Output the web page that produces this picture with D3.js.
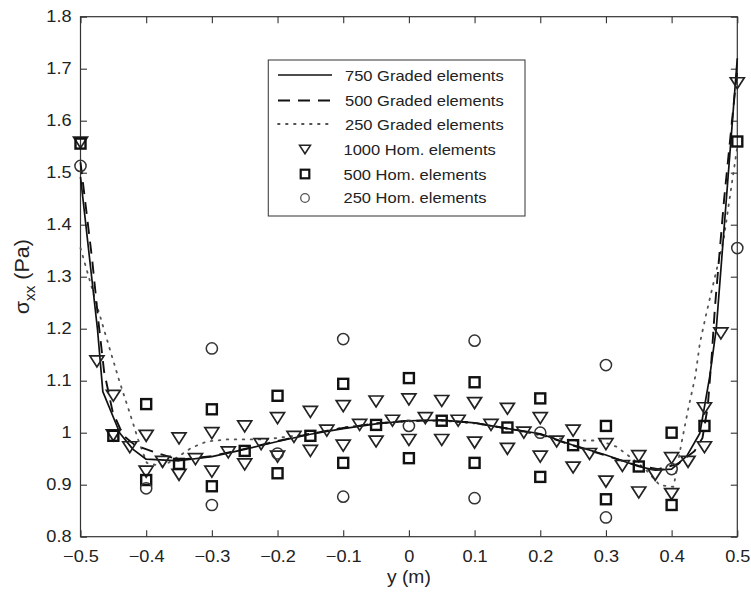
<!DOCTYPE html>
<html>
<head>
<meta charset="utf-8">
<script src="https://cdn.jsdelivr.net/npm/d3@7/dist/d3.min.js"></script>
<style>
html,body{margin:0;padding:0;background:#fff;}
svg{display:block;}
text{font-family:"Liberation Sans",Arial,sans-serif;fill:#222;}
</style>
</head>
<body>
<svg id="chart" width="751" height="592"></svg>
<script>
// ---------- data ----------
const xTickValues = [-0.5, -0.4, -0.3, -0.2, -0.1, 0, 0.1, 0.2, 0.3, 0.4, 0.5];
const xTickLabels = ["\u22120.5", "\u22120.4", "\u22120.3", "\u22120.2", "\u22120.1", "0", "0.1", "0.2", "0.3", "0.4", "0.5"];
const yTickValues = [0.8, 0.9, 1.0, 1.1, 1.2, 1.3, 1.4, 1.5, 1.6, 1.7, 1.8];
const yTickLabels = ["0.8", "0.9", "1", "1.1", "1.2", "1.3", "1.4", "1.5", "1.6", "1.7", "1.8"];

const legendLabels = ["750 Graded elements", "500 Graded elements", "250 Graded elements",
                      "1000 Hom. elements", "500 Hom. elements", "250 Hom. elements"];

// 750 graded elements (solid)
const graded750X = [-0.5, -0.474, -0.466, -0.44, -0.42, -0.4, -0.35, -0.3, -0.25, -0.2, -0.15, -0.1, -0.05, 0, 0.05, 0.1, 0.15, 0.2, 0.25, 0.3, 0.35, 0.375, 0.4, 0.423, 0.443, 0.458, 0.468, 0.5];
const graded750Y = [1.492, 1.197, 1.079, 0.999, 0.968, 0.949, 0.946, 0.954, 0.968, 0.983, 0.997, 1.008, 1.017, 1.023, 1.024, 1.019, 1.008, 0.998, 0.976, 0.957, 0.935, 0.928, 0.930, 0.955, 0.999, 1.108, 1.200, 1.720];

// 500 graded elements (dashed)
const graded500X = [-0.5, -0.482, -0.473, -0.464, -0.451, -0.435, -0.417, -0.384, -0.35, -0.3, -0.25, -0.2, -0.15, -0.1, -0.05, 0, 0.05, 0.1, 0.15, 0.2, 0.25, 0.3, 0.35, 0.38, 0.41, 0.435, 0.447, 0.455, 0.461, 0.466, 0.48, 0.5];
const graded500Y = [1.52, 1.33, 1.217, 1.117, 1.04, 0.995, 0.976, 0.961, 0.948, 0.955, 0.969, 0.984, 0.998, 1.009, 1.018, 1.023, 1.024, 1.019, 1.008, 0.997, 0.975, 0.956, 0.936, 0.930, 0.940, 0.965, 0.990, 1.05, 1.146, 1.242, 1.45, 1.70];

// 250 graded elements (dotted)
const graded250X = [-0.5, -0.473, -0.455, -0.44, -0.425, -0.412, -0.399, -0.375, -0.35, -0.331, -0.308, -0.277, -0.22, -0.2, -0.15, -0.1, -0.05, 0, 0.05, 0.1, 0.15, 0.2, 0.25, 0.29, 0.316, 0.33, 0.36, 0.382, 0.403, 0.415, 0.425, 0.436, 0.443, 0.453, 0.479, 0.494, 0.5];
const graded250Y = [1.355, 1.236, 1.159, 1.096, 1.038, 0.986, 0.942, 0.935, 0.955, 0.971, 0.983, 0.987, 0.987, 0.990, 0.998, 1.010, 1.018, 1.022, 1.023, 1.018, 1.008, 0.995, 0.985, 0.985, 0.973, 0.960, 0.930, 0.899, 0.896, 0.980, 1.044, 1.108, 1.172, 1.230, 1.370, 1.499, 1.550];

// 1000 homogeneous elements (triangles)
const hom1000X = [-0.5, -0.475, -0.45, -0.45, -0.425, -0.4, -0.4, -0.375, -0.35, -0.35, -0.325, -0.3, -0.3, -0.275, -0.25, -0.25, -0.225, -0.2, -0.2, -0.175, -0.15, -0.15, -0.125, -0.1, -0.1, -0.075, -0.05, -0.05, -0.025, 0, 0, 0.025, 0.05, 0.05, 0.075, 0.1, 0.1, 0.125, 0.15, 0.15, 0.175, 0.2, 0.2, 0.225, 0.25, 0.25, 0.275, 0.3, 0.3, 0.325, 0.35, 0.35, 0.375, 0.4, 0.4, 0.425, 0.45, 0.45, 0.475, 0.5];
const hom1000Y = [1.558, 1.137, 1.071, 0.995, 0.972, 0.994, 0.925, 0.944, 0.989, 0.919, 0.949, 0.999, 0.925, 0.962, 1.012, 0.939, 0.978, 1.028, 0.954, 0.992, 1.040, 0.965, 1.004, 1.051, 0.975, 1.015, 1.060, 0.983, 1.023, 1.064, 0.986, 1.028, 1.061, 0.986, 1.023, 1.057, 0.981, 1.015, 1.046, 0.969, 1.000, 1.028, 0.954, 0.983, 1.004, 0.933, 0.959, 0.978, 0.906, 0.936, 0.955, 0.885, 0.919, 0.951, 0.882, 0.944, 1.047, 0.972, 1.191, 1.672];

// 500 homogeneous elements (squares)
const hom500X = [-0.5, -0.45, -0.4, -0.4, -0.35, -0.3, -0.3, -0.25, -0.2, -0.2, -0.15, -0.1, -0.1, -0.05, 0, 0, 0.05, 0.1, 0.1, 0.15, 0.2, 0.2, 0.25, 0.3, 0.3, 0.35, 0.4, 0.4, 0.45, 0.5];
const hom500Y = [1.556, 0.994, 1.055, 0.909, 0.940, 1.045, 0.897, 0.965, 1.071, 0.922, 0.994, 1.094, 0.942, 1.015, 1.105, 0.951, 1.023, 1.097, 0.942, 1.010, 1.066, 0.915, 0.976, 1.013, 0.872, 0.935, 1.000, 0.861, 1.013, 1.560];

// 250 homogeneous elements (circles)
const hom250X = [-0.5, -0.4, -0.3, -0.3, -0.2, -0.1, -0.1, 0, 0.1, 0.1, 0.2, 0.3, 0.3, 0.4, 0.5];
const hom250Y = [1.513, 0.893, 1.162, 0.861, 0.960, 1.180, 0.877, 1.013, 1.177, 0.874, 1.000, 1.130, 0.837, 0.930, 1.355];

// ---------- layout ----------
const W = 751, H = 592;
const plot = {left: 80.5, right: 737.3, top: 16.7, bottom: 536.7};
const svg = d3.select("#chart");
svg.append("rect").attr("width", W).attr("height", H).attr("fill", "#fff");

const x = d3.scaleLinear().domain([-0.5, 0.5]).range([plot.left, plot.right]);
const y = d3.scaleLinear().domain([0.8, 1.8]).range([plot.bottom, plot.top]);

const STRETCH = 1.1;
function stretchText(sel) {
  sel.each(function () {
    const len = this.getComputedTextLength();
    d3.select(this).attr("textLength", len * STRETCH).attr("lengthAdjust", "spacingAndGlyphs");
  });
}

// ---------- axes (box with inward ticks on all sides) ----------
const tickLen = 6.5;
const axisColor = "#333";
const fmtX = d => xTickLabels[xTickValues.indexOf(d)];
const fmtY = d => yTickLabels[yTickValues.findIndex(v => Math.abs(v - d) < 1e-9)];

const gBottom = svg.append("g").attr("transform", `translate(0,${plot.bottom})`)
  .call(d3.axisBottom(x).tickValues(xTickValues).tickFormat(fmtX).tickSizeInner(-tickLen).tickSizeOuter(0).tickPadding(14));
const gTop = svg.append("g").attr("transform", `translate(0,${plot.top})`)
  .call(d3.axisTop(x).tickValues(xTickValues).tickFormat("").tickSizeInner(-tickLen).tickSizeOuter(0));
const gLeft = svg.append("g").attr("transform", `translate(${plot.left},0)`)
  .call(d3.axisLeft(y).tickValues(yTickValues).tickFormat(fmtY).tickSizeInner(-tickLen).tickSizeOuter(0).tickPadding(8));
const gRight = svg.append("g").attr("transform", `translate(${plot.right},0)`)
  .call(d3.axisRight(y).tickValues(yTickValues).tickFormat("").tickSizeInner(-tickLen).tickSizeOuter(0));

[gBottom, gTop, gLeft, gRight].forEach(g => {
  g.select(".domain").remove();
  g.selectAll(".tick line").attr("stroke", axisColor).attr("stroke-width", 1.1);
  g.selectAll("text").attr("font-size", 16.5).attr("fill", "#222")
    .attr("font-family", '"Liberation Sans",Arial,sans-serif');
});
gBottom.selectAll(".tick text").attr("dy", "0.71em").call(stretchText);
gLeft.selectAll(".tick text").attr("dx", "-1").call(stretchText);

svg.append("rect")
  .attr("x", plot.left).attr("y", plot.top)
  .attr("width", plot.right - plot.left).attr("height", plot.bottom - plot.top)
  .attr("fill", "none").attr("stroke", axisColor).attr("stroke-width", 1.2);

// ---------- axis labels ----------
const xl = svg.append("text").attr("x", (plot.left + plot.right) / 2).attr("y", 583)
  .attr("text-anchor", "middle").attr("font-size", 17.5).text("y (m)");
stretchText(xl);

const yl = svg.append("text")
  .attr("transform", `translate(29,${(plot.top + plot.bottom) / 2}) rotate(-90)`)
  .attr("text-anchor", "middle").attr("font-size", 19.5);
yl.append("tspan").text("\u03c3");
yl.append("tspan").attr("font-size", 14).attr("dy", 6).text("xx");
yl.append("tspan").attr("dy", -6).text(" (Pa)");
stretchText(yl);

// ---------- lines ----------
const line = d3.line().x(d => x(d[0])).y(d => y(d[1]));
const zip = (xs, ys) => xs.map((v, i) => [v, ys[i]]);

const lineStyles = [
  {data: zip(graded250X, graded250Y), stroke: "#555", width: 1.8, dash: "1.6,6.4", cap: "round"},
  {data: zip(graded500X, graded500Y), stroke: "#111", width: 1.9, dash: "12,8", cap: "butt"},
  {data: zip(graded750X, graded750Y), stroke: "#111", width: 1.7, dash: null, cap: "butt"}
];
lineStyles.forEach(s => {
  svg.append("path").datum(s.data).attr("d", line)
    .attr("fill", "none").attr("stroke", s.stroke).attr("stroke-width", s.width)
    .attr("stroke-dasharray", s.dash).attr("stroke-linecap", s.cap).attr("stroke-linejoin", "round");
});

// ---------- markers ----------
function triPath(w, h) { return `M${-w / 2},${-h / 2}L${w / 2},${-h / 2}L0,${h / 2}Z`; }

svg.append("g").selectAll("path").data(zip(hom1000X, hom1000Y)).join("path")
  .attr("d", triPath(14, 11))
  .attr("transform", d => `translate(${x(d[0])},${y(d[1])})`)
  .attr("fill", "none").attr("stroke", "#222").attr("stroke-width", 1.7).attr("stroke-linejoin", "miter");

svg.append("g").selectAll("rect").data(zip(hom500X, hom500Y)).join("rect")
  .attr("x", d => x(d[0]) - 5).attr("y", d => y(d[1]) - 5)
  .attr("width", 10).attr("height", 10)
  .attr("fill", "none").attr("stroke", "#111").attr("stroke-width", 2.4);

svg.append("g").selectAll("circle").data(zip(hom250X, hom250Y)).join("circle")
  .attr("cx", d => x(d[0])).attr("cy", d => y(d[1])).attr("r", 5.6)
  .attr("fill", "none").attr("stroke", "#333").attr("stroke-width", 1.5);

// ---------- legend ----------
const lg = svg.append("g");
lg.append("rect").attr("x", 268.3).attr("y", 60).attr("width", 256.7).attr("height", 156)
  .attr("fill", "#fff").attr("stroke", "#444").attr("stroke-width", 1.1);
const rowY = [75, 100.5, 124, 149.5, 174, 197.5];
const textX = [345, 345, 345, 343.5, 343.5, 343.5];
const lineSamples = [lineStyles[2], lineStyles[1], lineStyles[0]];
lineSamples.forEach((s, i) => {
  lg.append("line").attr("x1", 278).attr("x2", 332).attr("y1", rowY[i]).attr("y2", rowY[i])
    .attr("stroke", s.stroke).attr("stroke-width", s.width)
    .attr("stroke-dasharray", s.dash).attr("stroke-linecap", s.cap);
});
lg.append("path").attr("d", triPath(11, 8.5)).attr("transform", `translate(305,${rowY[3]})`)
  .attr("fill", "none").attr("stroke", "#222").attr("stroke-width", 1.5);
lg.append("rect").attr("x", 305 - 4.3).attr("y", rowY[4] - 4.3).attr("width", 8.6).attr("height", 8.6)
  .attr("fill", "none").attr("stroke", "#111").attr("stroke-width", 2.2);
lg.append("circle").attr("cx", 305).attr("cy", rowY[5] + 0.5).attr("r", 4.3)
  .attr("fill", "none").attr("stroke", "#555").attr("stroke-width", 1.3);
legendLabels.forEach((t, i) => {
  const tx = lg.append("text").attr("x", textX[i]).attr("y", rowY[i] + 5.5)
    .attr("font-size", 15).text(t);
  stretchText(tx);
});
</script>
</body>
</html>
